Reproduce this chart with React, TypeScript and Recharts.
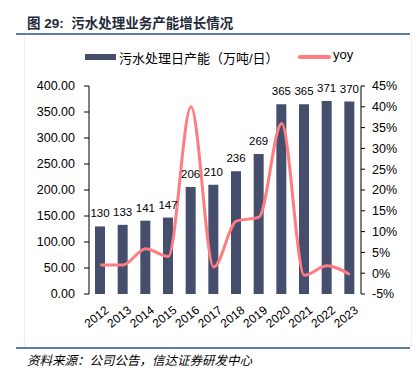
import { ComposedChart, Bar, Line, XAxis, YAxis, Legend, LabelList } from 'recharts'

const years = ['2012', '2013', '2014', '2015', '2016', '2017', '2018', '2019', '2020', '2021', '2022', '2023']
const capacity = [130, 133, 141, 147, 206, 210, 236, 269, 365, 365, 371, 370]
const yoy = [2.0, 2.0, 5.9, 4.0, 40.0, 1.5, 12.5, 13.5, 36.0, -0.5, 1.8, -0.3]
const leftTicks = [0, 50, 100, 150, 200, 250, 300, 350, 400]
const rightTicks = [-5, 0, 5, 10, 15, 20, 25, 30, 35, 40, 45]
const boundaryTicks = [0, 1, 2, 3, 4, 5, 6, 7, 8, 9, 10, 11, 12]

const BAR_NAME = '污水处理日产能（万吨/日）'
const LINE_NAME = 'yoy'

const BAR_COLOR = '#454e6d'
const LINE_COLOR = '#ff7c80'
const FONT = "'Liberation Sans', Arial, 'Noto Sans CJK SC', sans-serif"

const data = years.map((year, i) => ({ year, capacity: capacity[i], yoy: yoy[i] }))

function LegendContent() {
  return (
    <div style={{ position: 'relative', height: 20, width: 420, fontFamily: FONT, fontSize: 13, color: '#000' }}>
      <span style={{ position: 'absolute', left: 85, top: 7, width: 31, height: 6, background: BAR_COLOR }} />
      <span style={{ position: 'absolute', left: 119, top: 1, whiteSpace: 'nowrap' }}>{BAR_NAME}</span>
      <span style={{ position: 'absolute', left: 298, top: 8, width: 33, height: 4, background: LINE_COLOR, borderRadius: 2 }} />
      <span style={{ position: 'absolute', left: 333, top: 0 }}>{LINE_NAME}</span>
    </div>
  )
}

function YearTick(props: any) {
  const { x, y, payload } = props
  return (
    <g transform={`translate(${x + 4},${y + 3})`}>
      <text x={0} y={0} dy="0.71em" textAnchor="end" transform="rotate(-38)" fontSize={12} fill="#000" fontFamily={FONT}>
        {payload.value}
      </text>
    </g>
  )
}

export default function App() {
  return (
    <div style={{ position: 'absolute', left: 0, top: 0, width: 420, height: 378, background: '#fff', fontFamily: FONT }}>
      <div style={{ position: 'absolute', left: 27, top: 12, fontSize: 13.5, fontWeight: 'bold', color: '#1f2b3a', whiteSpace: 'pre' }}>
        {'图 29:  污水处理业务产能增长情况'}
      </div>
      <div style={{ position: 'absolute', left: 16, top: 33, width: 394, height: 2, background: '#5d7ea6' }} />
      <div style={{ position: 'absolute', left: 24, top: 35, width: 386, height: 312, borderLeft: '1px solid #f0f0f0', borderRight: '1px solid #f0f0f0' }} />
      <div style={{ position: 'absolute', left: 0, top: 0 }}>
        <ComposedChart width={420} height={340} data={data} margin={{ top: 66, right: 0, bottom: 0, left: 0 }}>
          <Legend verticalAlign="top" align="left" content={<LegendContent />} wrapperStyle={{ top: 47, left: 0 }} />
          <XAxis
            xAxisId="edges"
            type="number"
            domain={[0, 12]}
            ticks={boundaryTicks}
            tick={false}
            tickSize={5}
            height={0}
            stroke="#000"
            allowDataOverflow
          />
          <XAxis
            xAxisId="cat"
            dataKey="year"
            axisLine={false}
            tickLine={false}
            interval={0}
            height={46}
            tick={<YearTick />}
          />
          <YAxis
            yAxisId="left"
            domain={[0, 400]}
            ticks={leftTicks}
            width={89}
            tickSize={5}
            tickMargin={9}
            stroke="#000"
            tick={{ fill: '#000', fontSize: 12.5, fontFamily: FONT }}
            tickFormatter={(v: number) => v.toFixed(2)}
          />
          <YAxis
            yAxisId="right"
            orientation="right"
            domain={[-5, 45]}
            ticks={rightTicks}
            width={59}
            tickSize={4}
            tickMargin={7}
            stroke="#000"
            tick={{ fill: '#000', fontSize: 12.5, fontFamily: FONT }}
            tickFormatter={(v: number) => `${v}%`}
          />
          <Bar xAxisId="cat" yAxisId="left" dataKey="capacity" name={BAR_NAME} fill={BAR_COLOR} barSize={10} isAnimationActive={false}>
            <LabelList dataKey="capacity" position="top" offset={9} fontSize={11.5} fill="#000" fontFamily={FONT} />
          </Bar>
          <Line
            xAxisId="cat"
            yAxisId="right"
            type="monotone"
            dataKey="yoy"
            name={LINE_NAME}
            stroke={LINE_COLOR}
            strokeWidth={3}
            dot={false}
            isAnimationActive={false}
          />
        </ComposedChart>
      </div>
      <div style={{ position: 'absolute', left: 16, top: 347, width: 394, height: 2, background: '#5d7ea6' }} />
      <div style={{ position: 'absolute', left: 27, top: 350, fontSize: 12.5, fontStyle: 'italic', color: '#000', fontFamily: "'Noto Sans CJK SC', sans-serif", whiteSpace: 'nowrap' }}>
        资料来源：公司公告，信达证券研发中心
      </div>
    </div>
  )
}
